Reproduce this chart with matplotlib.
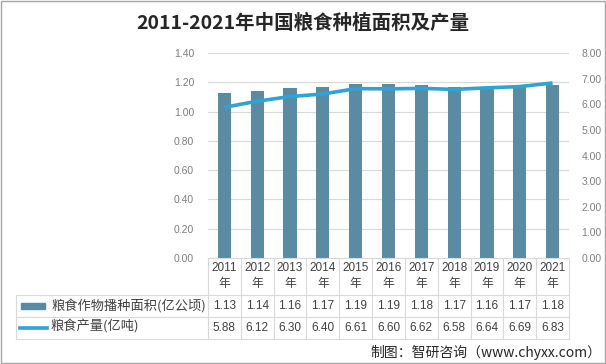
import matplotlib
matplotlib.use("Agg")
import matplotlib.pyplot as plt
from matplotlib.patches import Rectangle
from matplotlib.lines import Line2D

plt.rcParams['font.family'] = ['Noto Sans CJK SC', 'DejaVu Sans']

title = "2011-2021年中国粮食种植面积及产量"
years = ["2011", "2012", "2013", "2014", "2015", "2016", "2017", "2018", "2019", "2020", "2021"]
area = [1.13, 1.14, 1.16, 1.17, 1.19, 1.19, 1.18, 1.17, 1.16, 1.17, 1.18]
output = [5.88, 6.12, 6.30, 6.40, 6.61, 6.60, 6.62, 6.58, 6.64, 6.69, 6.83]
area_label = "粮食作物播种面积(亿公顷)"
output_label = "粮食产量(亿吨)"
source = "制图：智研咨询（www.chyxx.com）"
left_ticks = [0, 0.2, 0.4, 0.6, 0.8, 1.0, 1.2, 1.4]
right_ticks = [0, 1, 2, 3, 4, 5, 6, 7, 8]

W, H = 606, 364
BAR = "#5b8ba3"
LINE = "#2ea3d6"
GRID = "#d9d9d9"
TXT = "#404040"
TICK = "#7f7f7f"

fig = plt.figure(figsize=(W / 100, H / 100), dpi=100)
fig.patch.set_facecolor("white")

def fx(x):
    return x / W

def fy(y):
    return 1 - y / H

# plot area
L, R, T, B = 208, 569, 53, 258
ax = fig.add_axes([fx(L), fy(B), fx(R) - fx(L), fy(T) - fy(B)])
x = list(range(len(years)))
ax.bar(x, area, width=0.4, color=BAR, zorder=2)
ax.set_xlim(-0.5, len(years) - 0.5)
ax.set_ylim(0, 1.4)
ax.set_yticks(left_ticks)
ax.set_yticklabels([f"{v:.2f}" for v in left_ticks], family="Liberation Sans", fontsize=7.5, color=TICK)
ax.tick_params(axis="y", length=0, pad=10)
ax.set_xticks([])
ax.grid(axis="y", color=GRID, linewidth=0.8, zorder=0)
for s in ["top", "left", "right"]:
    ax.spines[s].set_visible(False)
ax.spines["bottom"].set_color(GRID)

ax2 = ax.twinx()
ax2.plot(x, output, color=LINE, linewidth=2.6, zorder=3, solid_capstyle="butt")
ax2.set_ylim(0, 8)
ax2.set_yticks(right_ticks)
ax2.set_yticklabels([f"{v:.2f}" for v in right_ticks], family="Liberation Sans", fontsize=7.5, color=TICK)
ax2.tick_params(axis="y", length=0, pad=9)
for s in ["top", "left", "right", "bottom"]:
    ax2.spines[s].set_visible(False)

# table
row_top, row1, row2, row3 = 258, 295, 317, 339
tleft = 16
n = len(years)
step = (R - L) / n
def lin(x0, y0, x1, y1):
    fig.add_artist(Line2D([fx(x0), fx(x1)], [fy(y0), fy(y1)], color=GRID, linewidth=0.8, transform=fig.transFigure))

for i in range(n + 1):
    xx = L + i * step
    lin(xx, row_top, xx, row3)
lin(tleft, row1, tleft, row3)
for yy in (row1, row2, row3):
    lin(tleft, yy, R, yy)

for i, yr in enumerate(years):
    cx = L + (i + 0.5) * step
    fig.text(fx(cx), fy(268), yr, ha="center", va="center", fontsize=8.5, family="Liberation Sans", color=TXT)
    fig.text(fx(cx), fy(284), "年", ha="center", va="center", fontsize=8.5, color=TXT)
    fig.text(fx(cx), fy(306), f"{area[i]:.2f}", ha="center", va="center", fontsize=8.5, family="Liberation Sans", color=TXT)
    fig.text(fx(cx), fy(328), f"{output[i]:.2f}", ha="center", va="center", fontsize=8.5, family="Liberation Sans", color=TXT)

fig.add_artist(Rectangle((fx(21), fy(309)), fx(45) - fx(21), fy(303) - fy(309), color=BAR, transform=fig.transFigure))
fig.add_artist(Line2D([fx(20), fx(47)], [fy(327.5), fy(327.5)], color=LINE, linewidth=2.6, transform=fig.transFigure))
fig.text(fx(52), fy(306), area_label, ha="left", va="center", fontsize=9.5, color=TXT)
fig.text(fx(51), fy(327), output_label, ha="left", va="center", fontsize=9.5, color=TXT)

fig.text(0.5, fy(23), title, ha="center", va="center", fontsize=14, fontweight="bold", color="#262626")
fig.text(fx(601), fy(352), source, ha="right", va="center", fontsize=10, color="#262626")

# outer frame
fig.add_artist(Rectangle((fx(1), fy(363)), fx(604), fy(1) - fy(363), fill=False, edgecolor="#a6a6a6", linewidth=1, transform=fig.transFigure))

fig.savefig("out.png", dpi=100, facecolor="white")
